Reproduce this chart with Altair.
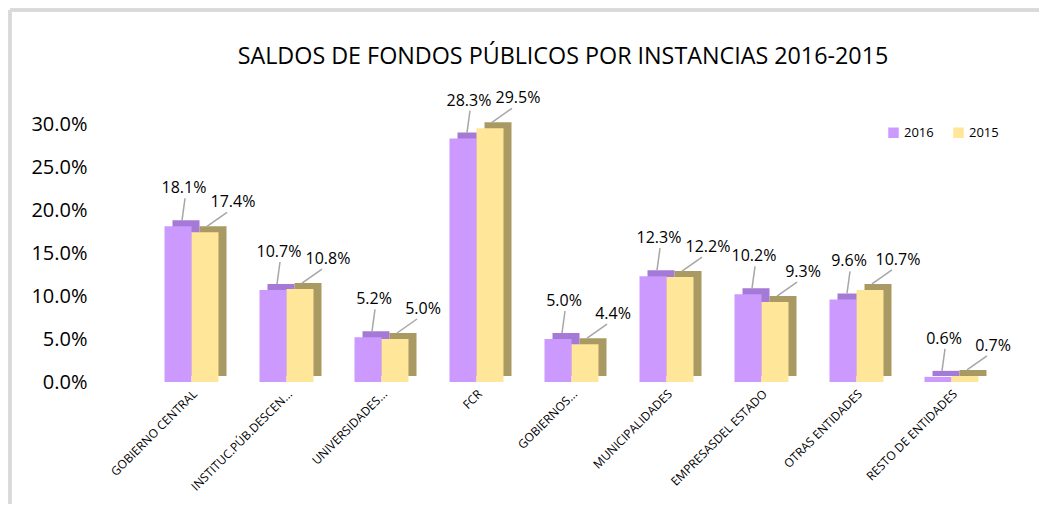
import altair as alt
import pandas as pd

categories = ["GOBIERNO CENTRAL", "INSTITUC.PÚB.DESCEN...", "UNIVERSIDADES...", "FCR",
              "GOBIERNOS...", "MUNICIPALIDADES", "EMPRESASDEL ESTADO",
              "OTRAS ENTIDADES", "RESTO DE ENTIDADES"]
v2016 = [18.1, 10.7, 5.2, 28.3, 5.0, 12.3, 10.2, 9.6, 0.6]
v2015 = [17.4, 10.8, 5.0, 29.5, 4.4, 12.2, 9.3, 10.7, 0.7]
series = ["2016", "2015"]
title_text = "SALDOS DE FONDOS PÚBLICOS POR INSTANCIAS 2016-2015"

rows = []
for c, a, b in zip(categories, v2016, v2015):
    rows.append({"cat": c, "serie": "2016", "v": a / 100})
    rows.append({"cat": c, "serie": "2015", "v": b / 100})
df = pd.DataFrame(rows)

FONT = "Open Sans"
FRONT = {"2016": "#CC99FF", "2015": "#FFE699"}
BACK = {"2016": "#A47AD6", "2015": "#A89A62"}
BW = 27      # bar width in px
DEPTH = 8    # 3D depth in px

x = alt.X("cat:N", sort=categories, title=None,
          scale=alt.Scale(paddingInner=0.42, paddingOuter=0.21),
          axis=alt.Axis(labelAngle=-45, labelFontSize=12, labelFont=FONT, labelColor="#000",
                        ticks=False, domain=False, labelPadding=6, labelLimit=200))
y = alt.Y("v:Q", title=None, scale=alt.Scale(domain=[0, 0.30], nice=False),
          axis=alt.Axis(format=".1%", values=[0, 0.05, 0.10, 0.15, 0.20, 0.25, 0.30],
                        labelFontSize=20, labelFont=FONT, labelColor="#000",
                        ticks=False, domain=False, grid=False, labelPadding=57))

base = alt.Chart(df)
layers = []
shift = {"2016": -BW / 2, "2015": BW / 2}

# frame of the chart area (decoration)
layers.append(alt.Chart(df).mark_rule(color="#D9D9D9", strokeWidth=2.5).encode(
    x=alt.value(-134), x2=alt.value(895), y=alt.value(-114)))
layers.append(alt.Chart(df).mark_rule(color="#D9D9D9", strokeWidth=2.5).encode(
    x=alt.value(-134), y=alt.value(-114), y2=alt.value(380)))
# chart title
layers.append(alt.Chart(pd.DataFrame({"t": [title_text]})).mark_text(
    fontSize=23.3, font=FONT, color="#000", baseline="middle", align="center").encode(
    x=alt.value(419), y=alt.value(-67), text="t:N"))

for s in series:
    sub = base.transform_filter(alt.datum.serie == s)
    layers.append(sub.mark_bar(width=BW, xOffset=shift[s] + DEPTH, yOffset=-6,
                               color=BACK[s]).encode(x=x, y=y))
for s in series:
    sub = base.transform_filter(alt.datum.serie == s)
    layers.append(sub.mark_bar(width=BW, xOffset=shift[s]).encode(
        x=x, y=y,
        color=alt.Color("serie:N", scale=alt.Scale(domain=series, range=[FRONT[k] for k in series]),
                        legend=alt.Legend(title=None, orient="none", legendX=743, legendY=2,
                                          direction="horizontal", symbolType="square",
                                          symbolSize=110, symbolStrokeWidth=0,
                                          labelFontSize=13, labelFont=FONT,
                                          columnPadding=18))))

sub16 = base.transform_filter(alt.datum.serie == "2016")
sub15 = base.transform_filter(alt.datum.serie == "2015")
layers.append(sub16.mark_rule(color="#A6A6A6", strokeWidth=1.5, xOffset=-BW / 2 + 4,
                              x2Offset=-BW / 2 + 7, yOffset=-6, y2Offset=-28).encode(
    x=x, x2="cat:N", y=y, y2="v:Q"))
layers.append(sub15.mark_rule(color="#A6A6A6", strokeWidth=1.5, xOffset=BW / 2 + 2,
                              x2Offset=BW / 2 + 22, yOffset=-6, y2Offset=-20).encode(
    x=x, x2="cat:N", y=y, y2="v:Q"))
layers.append(sub16.mark_text(dy=-38, dx=-BW / 2 + 6, fontSize=16, font=FONT, color="#000").encode(
    x=x, y=y, text=alt.Text("v:Q", format=".1%")))
layers.append(sub15.mark_text(dy=-30, dx=BW / 2 + 28, fontSize=16, font=FONT, color="#000").encode(
    x=x, y=y, text=alt.Text("v:Q", format=".1%")))

chart = alt.layer(*layers).properties(
    width=855, height=258,
    padding={"left": 0, "top": 0, "right": 5, "bottom": 5},
).configure(background="white").configure_view(stroke=None)

chart.save("out.html", embed_options={"renderer": "svg", "actions": False})
